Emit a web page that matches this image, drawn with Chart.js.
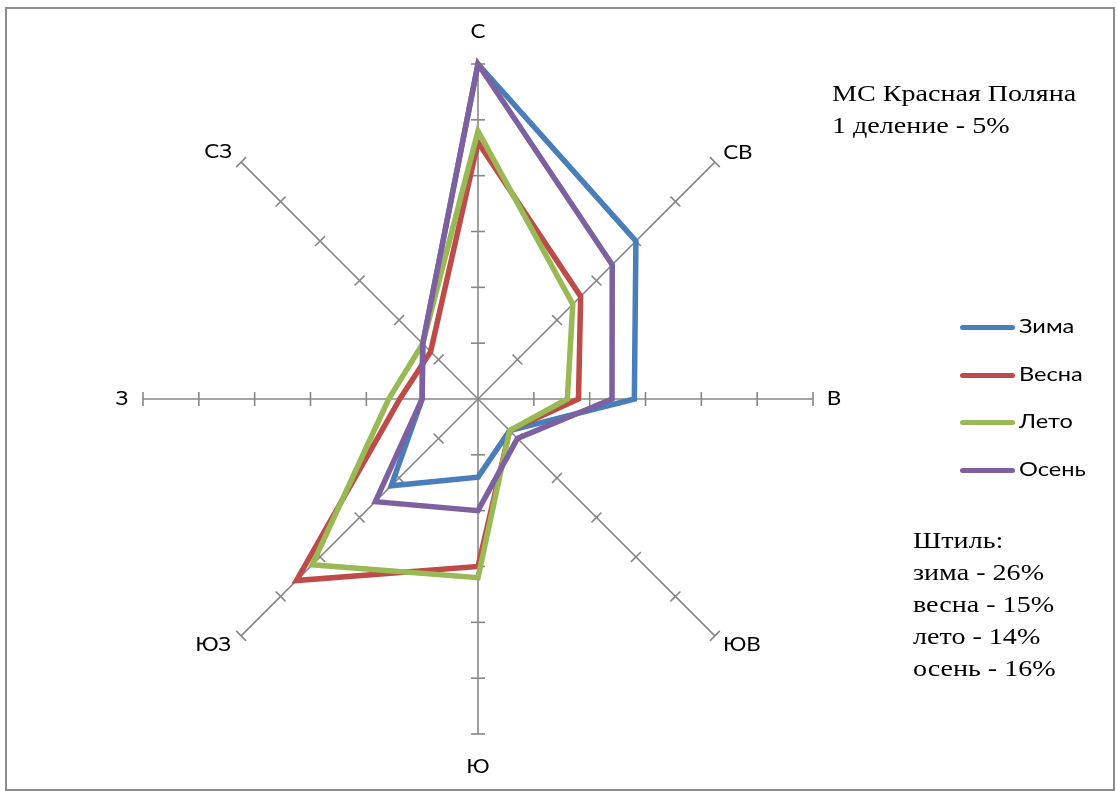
<!DOCTYPE html>
<html lang="ru">
<head>
<meta charset="utf-8">
<title>Роза ветров — МС Красная Поляна</title>
<script src="https://cdn.jsdelivr.net/npm/chart.js@4.4.0/dist/chart.umd.min.js"></script>
<style>
  html, body { margin: 0; padding: 0; background: #fff; }
  body { width: 1117px; height: 791px; position: relative; overflow: hidden; }
  #frame { position: absolute; left: 5px; top: 7px; width: 1106px; height: 780px; border: 2px solid #8c8c8c; }
  #wrap { position: absolute; left: 0; top: 0; width: 1117px; height: 791px; }
  .note { position: absolute; font-family: "Liberation Serif", "Times New Roman", serif; font-size: 24px; line-height: 32px; color: #000; white-space: nowrap; transform: scaleX(1.17); transform-origin: 0 0; }
  #legend { position: absolute; left: 960px; top: 311px; font-family: Lato, "Noto Sans", sans-serif; font-size: 20px; color: #000; }
  .item { position: relative; height: 47.7px; }
  .swatch { position: absolute; left: 0; top: 14px; width: 55px; height: 5px; border-radius: 3px; }
  .label { position: absolute; left: 59px; top: 2px; white-space: nowrap; transform: scaleX(1.18); transform-origin: 0 0; }
</style>
</head>
<body>
<div id="frame"></div>
<div id="wrap"><canvas id="rose" width="1117" height="791"></canvas></div>
<div class="note" style="left:832px; top:77px;">МС Красная Поляна<br>1 деление - 5%</div>
<div class="note" style="left:913px; top:524px;" id="calm"></div>
<div id="legend"></div>
<script>
// Wind directions (rhumbs), clockwise from north
const directions = ['С', 'СВ', 'В', 'ЮВ', 'Ю', 'ЮЗ', 'З', 'СЗ'];

// Wind direction frequency by season, %
const winter = [30, 20, 14, 4, 7, 11, 5, 7];
const spring = [23, 13, 9, 4, 15, 23, 7, 6];
const summer = [24, 12, 8, 4, 16, 21, 8, 7];
const autumn = [30, 17, 12, 5, 10, 13, 5, 7];

const seasonNames = ['Зима', 'Весна', 'Лето', 'Осень'];

// Calm frequency, %
const calmSeasons = ['зима', 'весна', 'лето', 'осень'];
const calmValues = [26, 15, 14, 16];

// Axis scale: one division = 5%
const scaleMax = 30;
const scaleStep = 5;

const seasonColors = ['#4a7ebb', '#be4b48', '#98b954', '#7d60a0'];
const axisColor = '#878787';

// Calm block
document.getElementById('calm').innerHTML =
  'Штиль:<br>' + calmSeasons.map((s, i) => s + ' - ' + calmValues[i] + '%').join('<br>');

// Legend
const legend = document.getElementById('legend');
seasonNames.forEach((name, i) => {
  const item = document.createElement('div');
  item.className = 'item';
  item.innerHTML = '<div class="swatch" style="background:' + seasonColors[i] + '"></div>' +
                   '<div class="label">' + name + '</div>';
  legend.appendChild(item);
});

// Tick marks across each axis at every division
const axisTicks = {
  id: 'axisTicks',
  beforeDatasetsDraw(chart) {
    const s = chart.scales.r;
    const ctx = chart.ctx;
    ctx.save();
    ctx.strokeStyle = axisColor;
    ctx.lineWidth = 1.6;
    const half = 7;
    for (let i = 0; i < chart.data.labels.length; i++) {
      const a = s.getIndexAngle(i) - Math.PI / 2;
      const nx = -Math.sin(a), ny = Math.cos(a);
      s.ticks.forEach(t => {
        if (t.value <= 0) return;
        const p = s.getPointPositionForValue(i, t.value);
        ctx.beginPath();
        ctx.moveTo(p.x - nx * half, p.y - ny * half);
        ctx.lineTo(p.x + nx * half, p.y + ny * half);
        ctx.stroke();
      });
    }
    ctx.restore();
  }
};

// Direction names just beyond the axis ends
const labelOffsets = [[0, -32], [23, -9], [21, 0], [27, 9], [0, 33], [-28, 9], [-21, 0], [-23, -10]];
const directionLabels = {
  id: 'directionLabels',
  afterDraw(chart) {
    const s = chart.scales.r;
    const ctx = chart.ctx;
    chart.data.labels.forEach((lbl, i) => {
      const p = s.getPointPositionForValue(i, scaleMax);
      const o = labelOffsets[i];
      ctx.save();
      ctx.translate(p.x + o[0], p.y + o[1]);
      ctx.scale(1.18, 1);
      ctx.fillStyle = '#000';
      ctx.font = '19px Lato, "Noto Sans", sans-serif';
      ctx.textAlign = 'center';
      ctx.textBaseline = 'middle';
      ctx.fillText(lbl, 0, 0);
      ctx.restore();
    });
  }
};

const series = [winter, spring, summer, autumn];

new Chart(document.getElementById('rose'), {
  type: 'radar',
  data: {
    labels: directions,
    datasets: series.map((values, i) => ({
      label: seasonNames[i],
      data: values,
      borderColor: seasonColors[i],
      backgroundColor: 'transparent',
      borderWidth: 5.5,
      borderJoinStyle: 'miter',
      fill: false,
      pointRadius: 0,
      pointHoverRadius: 0,
      order: series.length - i
    }))
  },
  options: {
    responsive: false,
    devicePixelRatio: 1,
    animation: false,
    layout: { padding: { left: 143, top: 64, right: 304, bottom: 57 } },
    elements: { line: { tension: 0 } },
    plugins: {
      legend: { display: false },
      tooltip: { enabled: false }
    },
    scales: {
      r: {
        min: 0,
        max: scaleMax,
        ticks: { display: false, stepSize: scaleStep },
        grid: { display: false },
        angleLines: { display: true, color: axisColor, lineWidth: 1.6 },
        pointLabels: { display: false }
      }
    }
  },
  plugins: [axisTicks, directionLabels]
});
</script>
</body>
</html>
